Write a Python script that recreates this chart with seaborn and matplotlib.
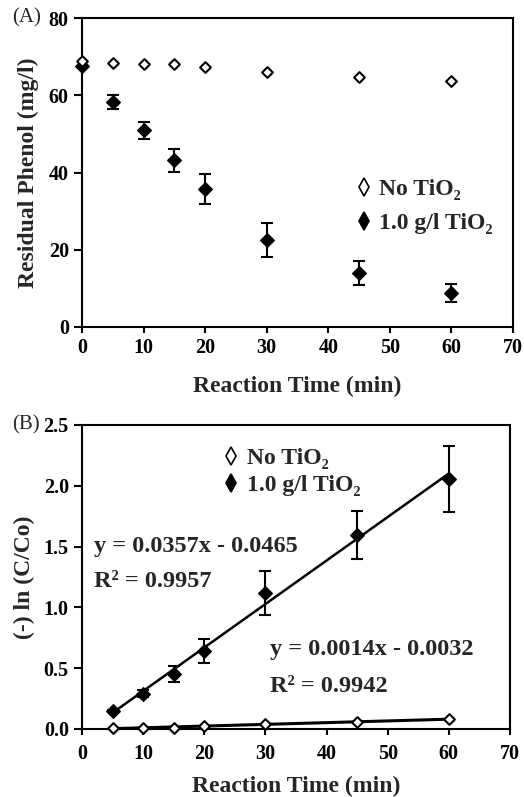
import numpy as np
import pandas as pd
import matplotlib
matplotlib.use("Agg")
import matplotlib.pyplot as plt
import seaborn as sns
from matplotlib.lines import Line2D

# ---- data ----
time_a = [0, 5, 10, 15, 20, 30, 45, 60]
no_tio2_a = [68.9, 68.3, 68.0, 68.0, 67.2, 66.1, 64.6, 63.6]
tio2_a = [67.5, 58.2, 50.9, 43.2, 35.7, 22.6, 14.0, 8.8]
tio2_a_err = [0.0, 1.8, 2.2, 3.0, 3.9, 4.4, 3.0, 2.3]

time_b = [5, 10, 15, 20, 30, 45, 60]
no_tio2_b = [0.005, 0.010, 0.012, 0.025, 0.040, 0.060, 0.080]
no_tio2_b_err = [0.02, 0.02, 0.01, 0.02, 0.02, 0.02, 0.01]
tio2_b = [0.148, 0.29, 0.45, 0.644, 1.117, 1.595, 2.055]
tio2_b_err = [0.01, 0.03, 0.065, 0.10, 0.18, 0.20, 0.27]

eq_tio2 = ["y = 0.0357x - 0.0465", "R² = 0.9957"]
eq_no = ["y = 0.0014x - 0.0032", "R² = 0.9942"]
legend_labels = ["No TiO₂", "1.0 g/l TiO₂"]
x_ticks = [0, 10, 20, 30, 40, 50, 60, 70]
ya_ticks = [0, 20, 40, 60, 80]
yb_ticks = [0.0, 0.5, 1.0, 1.5, 2.0, 2.5]

sns.set_theme(style="white")
plt.rcParams["font.family"] = ["Liberation Serif", "DejaVu Serif"]
plt.rcParams["font.weight"] = "bold"

fig = plt.figure(figsize=(5.24, 7.97), dpi=100)
W, H = 524, 797
def box(l, t, r, b):
    return [l / W, 1 - b / H, (r - l) / W, (b - t) / H]

axA = fig.add_axes(box(82, 18, 513, 327))
axB = fig.add_axes(box(82, 425, 510, 729))

dfA = pd.DataFrame({"t": time_a, "no": no_tio2_a, "ti": tio2_a, "err": tio2_a_err})
dfB = pd.DataFrame({"t": time_b, "no": no_tio2_b, "noerr": no_tio2_b_err,
                    "ti": tio2_b, "err": tio2_b_err})

TICK_FS = 14.5
LAB_FS = 17

def style(ax, yticks, ylim, fmt, xpad, xlabpad):
    ax.set_xlim(0, 70)
    ax.set_ylim(*ylim)
    ax.set_xticks(x_ticks)
    ax.set_yticks(yticks)
    ax.set_yticklabels([fmt.format(v) for v in yticks])
    for s in ax.spines.values():
        s.set_color("black")
        s.set_linewidth(1.5)
    ax.tick_params(axis="both", which="major", direction="out", width=1.5,
                   colors="black", labelsize=TICK_FS, bottom=True, left=True,
                   top=False, right=False)
    ax.tick_params(axis="x", length=4, pad=xpad)
    ax.tick_params(axis="y", length=6, pad=3.5)
    for lab in ax.get_xticklabels() + ax.get_yticklabels():
        lab.set_fontweight("bold")
    ax.set_xlabel("Reaction Time (min)", fontsize=LAB_FS, fontweight="bold", labelpad=xlabpad)

# ---- Panel A ----
axA.errorbar(dfA["t"], dfA["ti"], yerr=dfA["err"], fmt="none", ecolor="black",
             elinewidth=1.5, capsize=4.5, capthick=1.5, zorder=2)
sns.scatterplot(data=dfA, x="t", y="ti", marker="D", s=48, color="black",
                edgecolor="black", linewidth=1, ax=axA, zorder=3, clip_on=False)
sns.scatterplot(data=dfA, x="t", y="no", marker="D", s=30, color="white",
                edgecolor="black", linewidth=1.5, ax=axA, zorder=4, clip_on=False)
style(axA, ya_ticks, (0, 80), "{:.0f}", xpad=4, xlabpad=13)
axA.set_ylabel("Residual Phenol (mg/l)", fontsize=LAB_FS, fontweight="bold", labelpad=7)

handles = [Line2D([], [], marker="d", ls="none", mfc="white", mec="black", mew=1.2, ms=9),
           Line2D([], [], marker="d", ls="none", mfc="black", mec="black", mew=1.2, ms=9)]
axA.legend(handles, legend_labels, loc="center left", bbox_to_anchor=(0.61, 0.39),
           frameon=False, prop={"family": "Liberation Serif", "weight": "bold", "size": LAB_FS},
           handlelength=0.6, handletextpad=0.35, labelspacing=0.52, borderpad=0)
fig.text(12 / W, 1 - 18 / H, "(A)", fontsize=15, fontweight="normal", va="center", ha="left")

# ---- Panel B ----
sns.regplot(data=dfB, x="t", y="ti", ci=None, scatter=False, ax=axB,
            line_kws={"color": "black", "lw": 1.8}, truncate=True)
sns.regplot(data=dfB, x="t", y="no", ci=None, scatter=False, ax=axB,
            line_kws={"color": "black", "lw": 2.2}, truncate=True)
axB.errorbar(dfB["t"], dfB["ti"], yerr=dfB["err"], fmt="none", ecolor="black",
             elinewidth=1.5, capsize=4.5, capthick=1.5, zorder=2)
axB.errorbar(dfB["t"], dfB["no"], yerr=dfB["noerr"], fmt="none", ecolor="black",
             elinewidth=1.2, capsize=0, zorder=2, clip_on=False)
sns.scatterplot(data=dfB, x="t", y="ti", marker="D", s=48, color="black",
                edgecolor="black", linewidth=1, ax=axB, zorder=3, clip_on=False)
sns.scatterplot(data=dfB, x="t", y="no", marker="D", s=30, color="white",
                edgecolor="black", linewidth=1.5, ax=axB, zorder=4, clip_on=False)
style(axB, yb_ticks, (0, 2.5), "{:.1f}", xpad=6.5, xlabpad=9)
axB.set_ylabel("(-) ln (C/Co)", fontsize=LAB_FS, fontweight="bold", labelpad=6)

axB.legend(handles, legend_labels, loc="center left", bbox_to_anchor=(0.305, 0.846),
           frameon=False, prop={"family": "Liberation Serif", "weight": "bold", "size": LAB_FS},
           handlelength=0.6, handletextpad=0.35, labelspacing=0.22, borderpad=0)
EQ_FS = 17.5
axB.text(2.0, 1.50, eq_tio2[0], fontsize=EQ_FS, fontweight="bold", va="center", ha="left")
axB.text(2.0, 1.21, eq_tio2[1], fontsize=EQ_FS, fontweight="bold", va="center", ha="left")
axB.text(30.8, 0.655, eq_no[0], fontsize=EQ_FS, fontweight="bold", va="center", ha="left")
axB.text(30.8, 0.35, eq_no[1], fontsize=EQ_FS, fontweight="bold", va="center", ha="left")
fig.text(12 / W, 1 - 425 / H, "(B)", fontsize=15, fontweight="normal", va="center", ha="left")

fig.savefig("out.png", dpi=100)
